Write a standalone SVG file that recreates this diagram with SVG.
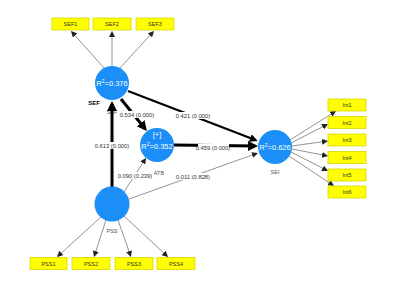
<svg xmlns="http://www.w3.org/2000/svg" width="397" height="282" viewBox="0 0 397 282">
<style>
.box{fill:#FFFF00;stroke:#D8D800;stroke-width:0.8}
.bt{font-family:"Liberation Sans",Arial,sans-serif;font-size:5.5px;fill:#333;text-anchor:middle}
.lv{fill:#1B8EF7}
.rt{font-family:"Liberation Sans",Arial,sans-serif;font-size:7.5px;fill:#fff;text-anchor:middle}
.nl{font-family:"Liberation Sans",Arial,sans-serif;font-size:5.5px;fill:#555;text-anchor:middle}
.el{font-family:"Liberation Sans",Arial,sans-serif;font-size:5.8px;fill:#333;text-anchor:middle}
.thin{stroke:#777;stroke-width:0.8;fill:none;marker-end:url(#as)}
.thick{stroke:#000;stroke-width:3;fill:none;marker-end:url(#al)}
.med{stroke:#000;stroke-width:2.2;fill:none;marker-end:url(#am)}
.lb{fill:#fff}
</style>
<defs>
<marker id="as" markerUnits="userSpaceOnUse" markerWidth="6" markerHeight="6" viewBox="0 0 6 6" refX="5" refY="3" orient="auto"><path d="M0,0 L6,3 L0,6 Z" fill="#222"/></marker>
<marker id="al" markerUnits="userSpaceOnUse" markerWidth="10" markerHeight="10" viewBox="0 0 10 10" refX="7" refY="5" orient="auto"><path d="M0,0 L10,5 L0,10 Z" fill="#000"/></marker>
<marker id="am" markerUnits="userSpaceOnUse" markerWidth="8" markerHeight="8" viewBox="0 0 8 8" refX="5.5" refY="4" orient="auto"><path d="M0,0 L8,4 L0,8 Z" fill="#000"/></marker>
</defs>
<rect width="397" height="282" fill="#fff"/>
<text class="nl" x="112" y="114" fill="#888">SEF</text>
<g id="connectors">
<line class="thin" x1="104" y1="68" x2="71.7" y2="31.7"/>
<line class="thin" x1="112" y1="66" x2="112" y2="32"/>
<line class="thin" x1="120" y1="68" x2="153.3" y2="31.7"/>
<line class="thin" x1="290" y1="140" x2="335.2" y2="111.5"/>
<line class="thin" x1="291" y1="143" x2="327.1" y2="124.5"/>
<line class="thin" x1="292" y1="146" x2="327" y2="141.1"/>
<line class="thin" x1="292" y1="149" x2="327" y2="155.8"/>
<line class="thin" x1="291" y1="152" x2="327.1" y2="170.5"/>
<line class="thin" x1="289" y1="156" x2="333.2" y2="185.4"/>
<line class="thin" x1="101" y1="217" x2="57.7" y2="256.3"/>
<line class="thin" x1="106" y1="220" x2="94.3" y2="256"/>
<line class="thin" x1="118" y1="220" x2="130.7" y2="256"/>
<line class="thin" x1="124" y1="216" x2="167.3" y2="256.3"/>
<line class="thin" x1="124" y1="192" x2="145.5" y2="158.8"/>
<line class="thin" x1="129" y1="199" x2="257" y2="153.3"/>
<line class="thick" x1="112" y1="187" x2="112" y2="104"/>
<line class="thick" x1="121" y1="99" x2="145" y2="128.7"/>
<line class="med" x1="128" y1="91" x2="255.4" y2="140"/>
<line class="thick" x1="174" y1="145" x2="255" y2="146"/>
<rect class="lb" x="118" y="111" width="38" height="7"/>
<text class="el" x="137" y="117">0.534 (0.000)</text>
<rect class="lb" x="176" y="112" width="35" height="7"/>
<text class="el" x="193" y="117.5">0.421 (0.000)</text>
<rect class="lb" x="198" y="144" width="31" height="7"/>
<text class="el" x="213" y="149.5">0.459 (0.000)</text>
<rect class="lb" x="95" y="142" width="34" height="7"/>
<text class="el" x="112" y="147.5">0.613 (0.000)</text>
<rect class="lb" x="117" y="172" width="35" height="7"/>
<text class="el" x="135" y="177.5">0.090 (0.239)</text>
<rect class="lb" x="175" y="173" width="36" height="7"/>
<text class="el" x="193" y="178.5">0.011 (0.828)</text>
</g>
<g id="SEF1"><rect class="box" x="52" y="18" width="37" height="12"/><text class="bt" x="70.5" y="26">SEF1</text></g>
<g id="SEF2"><rect class="box" x="93" y="18" width="38" height="12"/><text class="bt" x="112" y="26">SEF2</text></g>
<g id="SEF3"><rect class="box" x="136" y="18" width="38" height="12"/><text class="bt" x="155" y="26">SEF3</text></g>
<g id="Int1"><rect class="box" x="328" y="99" width="38" height="12"/><text class="bt" x="347" y="107">Int1</text></g>
<g id="Int2"><rect class="box" x="328" y="116.5" width="38" height="12"/><text class="bt" x="347" y="124.5">Int2</text></g>
<g id="Int3"><rect class="box" x="328" y="134" width="38" height="12"/><text class="bt" x="347" y="142">Int3</text></g>
<g id="Int4"><rect class="box" x="328" y="151.5" width="38" height="12"/><text class="bt" x="347" y="159.5">Int4</text></g>
<g id="Int5"><rect class="box" x="328" y="169" width="38" height="12"/><text class="bt" x="347" y="177">Int5</text></g>
<g id="Int6"><rect class="box" x="328" y="186" width="38" height="12"/><text class="bt" x="347" y="194">Int6</text></g>
<g id="PSS1"><rect class="box" x="30" y="257.5" width="37" height="12"/><text class="bt" x="48.5" y="265.5">PSS1</text></g>
<g id="PSS2"><rect class="box" x="72" y="257.5" width="38" height="12"/><text class="bt" x="91" y="265.5">PSS2</text></g>
<g id="PSS3"><rect class="box" x="115" y="257.5" width="38" height="12"/><text class="bt" x="134" y="265.5">PSS3</text></g>
<g id="PSS4"><rect class="box" x="157" y="257.5" width="38" height="12"/><text class="bt" x="176" y="265.5">PSS4</text></g>
<g id="SEF"><circle class="lv" cx="112" cy="83" r="17"/><text class="rt" x="112" y="86">R<tspan font-size="5" dy="-3">2</tspan><tspan dy="3">=0.376</tspan></text><text x="94" y="105" font-family="Liberation Sans,Arial,sans-serif" font-size="6px" font-weight="bold" fill="#000" text-anchor="middle">SEF</text></g>
<g id="ATB"><circle class="lv" cx="157" cy="145" r="17"/><text class="rt" x="157" y="137" font-size="6px">[+]</text><text class="rt" x="157" y="149">R<tspan font-size="5" dy="-3">2</tspan><tspan dy="3">=0.352</tspan></text><text class="nl" x="159" y="175">ATB</text></g>
<g id="SEI"><circle class="lv" cx="275" cy="147" r="17"/><text class="rt" x="275" y="150">R<tspan font-size="5" dy="-3">2</tspan><tspan dy="3">=0.626</tspan></text><text class="nl" x="275" y="174">SEI</text></g>
<g id="PSS"><circle class="lv" cx="112" cy="204" r="17.5"/><text class="nl" x="112" y="233">PSS</text></g>
</svg>
